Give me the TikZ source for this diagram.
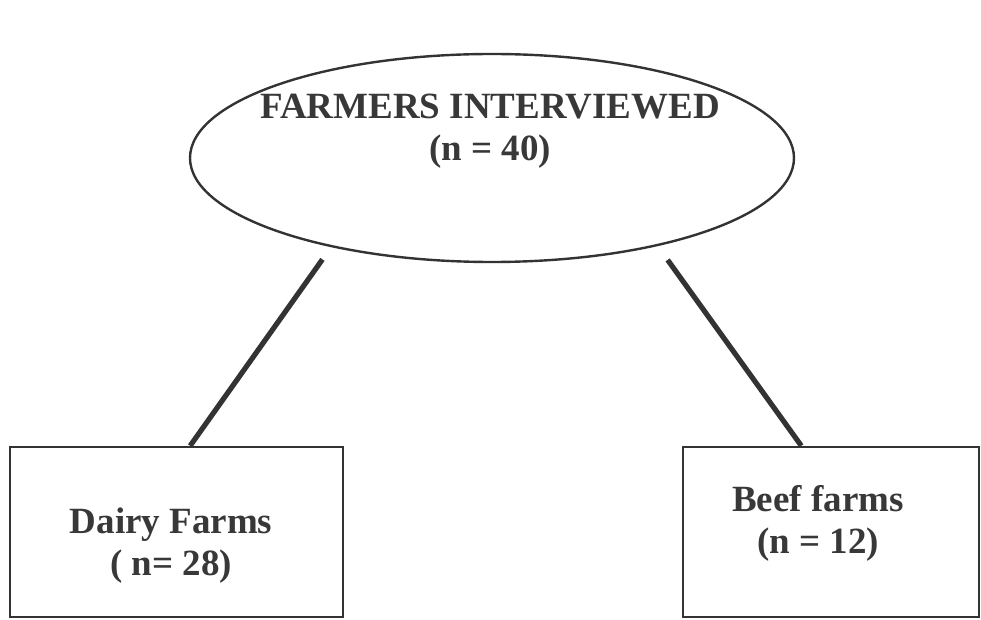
\documentclass[tikz,border=0pt]{standalone}
\usepackage{fontspec}
\setmainfont{Liberation Serif}
\usetikzlibrary{shapes}

\begin{document}
\begin{tikzpicture}[x=0.5pt, y=-0.5pt]
		\tikzstyle{group} = [ellipse, draw=black!80, line width=1.2pt, minimum width=302pt, minimum height=104pt, inner sep=0pt]
		\tikzstyle{farm} = [rectangle, draw=black!80, line width=1.2pt, inner sep=0pt]
		\tikzstyle{caption} = [align=center, text=black!78, font=\bfseries\fontsize{18.5}{21}\selectfont]
		\tikzstyle{link} = [draw=black!80, line width=2.6pt]

		\useasboundingbox (0,0) rectangle (981,620);

		% farmers interviewed
		\node[group] (interviewed) at (492,158) {};
		\node[caption] (interviewed-text) at (490,131) {FARMERS INTERVIEWED\\(n = 40)};

		% farm types
		\node[farm, minimum width=166.5pt, minimum height=85pt] (dairy) at (176.5,532) {};
		\node[caption] (dairy-text) at (171,546) {Dairy Farms\\( n= 28)};
		\node[farm, minimum width=148pt, minimum height=85pt] (beef) at (831,532) {};
		\node[caption] (beef-text) at (818,523) {Beef farms\\(n = 12)};

		% connections
		\path[link] (interviewed.209) edge[shorten <=7.5pt] (dairy.81);
		\path[link] (interviewed.332.6) edge[shorten <=8.5pt] (beef.109);
	\end{tikzpicture}
\end{document}
